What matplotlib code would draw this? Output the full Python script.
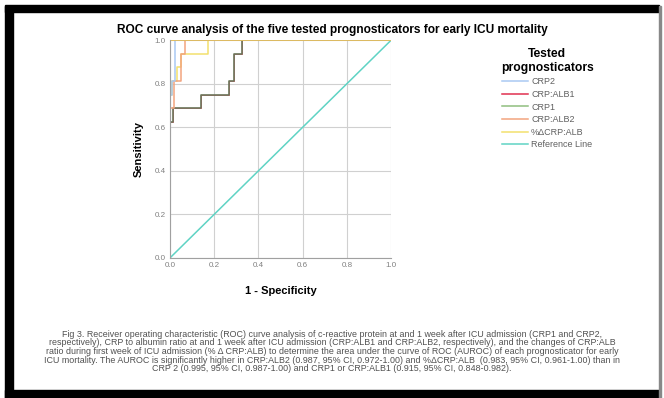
import matplotlib
matplotlib.use("Agg")
import matplotlib.pyplot as plt
from matplotlib.lines import Line2D
from matplotlib.patches import Rectangle

plt.rcParams['font.family'] = ['Liberation Sans', 'DejaVu Sans']

# ROC curves (1 - specificity, sensitivity)
crp2_fpr = [0, 0, 0.01, 0.01, 0.022, 0.022, 1]
crp2_tpr = [0, 0.75, 0.75, 0.8125, 0.8125, 1, 1]

crp1_fpr = [0, 0, 0.015, 0.015, 0.14, 0.14, 0.265, 0.265, 0.29, 0.29, 0.325, 0.325, 1]
crp1_tpr = [0, 0.625, 0.625, 0.6875, 0.6875, 0.75, 0.75, 0.8125, 0.8125, 0.9375, 0.9375, 1, 1]

# CRP:ALB1 has the same curve as CRP1 (AUROC 0.915)
alb1_fpr = crp1_fpr
alb1_tpr = crp1_tpr

alb2_fpr = [0, 0, 0.02, 0.02, 0.05, 0.05, 0.07, 0.07, 1]
alb2_tpr = [0, 0.6875, 0.6875, 0.8125, 0.8125, 0.9375, 0.9375, 1, 1]

dalb_fpr = [0, 0, 0.01, 0.01, 0.03, 0.03, 0.05, 0.05, 0.17, 0.17, 1]
dalb_tpr = [0, 0.75, 0.75, 0.8125, 0.8125, 0.875, 0.875, 0.9375, 0.9375, 1, 1]

ref_x = [0, 1]
ref_y = [0, 1]

names = ['CRP2', 'CRP:ALB1', 'CRP1', 'CRP:ALB2', '%\u0394CRP:ALB', 'Reference Line']
colors = ['#a9c9f2', '#e0304f', '#8fbf7f', '#f2a47e', '#f2e06e', '#5fd3c4']

caption = ("Fig 3. Receiver operating characteristic (ROC) curve analysis of c-reactive protein at and 1 week after ICU admission (CRP1 and CRP2,\n"
           "respectively), CRP to albumin ratio at and 1 week after ICU admission (CRP:ALB1 and CRP:ALB2, respectively), and the changes of CRP:ALB\n"
           "ratio during first week of ICU admission (% \u0394 CRP:ALB) to determine the area under the curve of ROC (AUROC) of each prognosticator for early\n"
           "ICU mortality. The AUROC is significantly higher in CRP:ALB2 (0.987, 95% CI, 0.972-1.00) and %\u0394CRP:ALB  (0.983, 95% CI, 0.961-1.00) than in\n"
           "CRP 2 (0.995, 95% CI, 0.987-1.00) and CRP1 or CRP:ALB1 (0.915, 95% CI, 0.848-0.982).")

fig = plt.figure(figsize=(6.64, 3.98), dpi=100)
ax = fig.add_axes([0.256, 0.352, 0.333, 0.547])

ax.plot(ref_x, ref_y, color=colors[5], lw=1.1)
ax.plot(alb1_fpr, alb1_tpr, color=colors[1], lw=0.5)
ax.plot(crp1_fpr, crp1_tpr, color='#6a7458', lw=1.2)
ax.plot(dalb_fpr, dalb_tpr, color=colors[4], lw=1.1)
ax.plot(alb2_fpr, alb2_tpr, color=colors[3], lw=1.1)
ax.plot(crp2_fpr, crp2_tpr, color=colors[0], lw=1.1)
ax.plot([0, 1], [1, 1], color='#e8b840', lw=1.1)
ax.plot([0, 0], [0, 1], color='#e8b840', lw=1.1)

ax.set_xlim(0, 1)
ax.set_ylim(0, 1)
ax.set_xticks([0, 0.2, 0.4, 0.6, 0.8, 1.0])
ax.set_yticks([0, 0.2, 0.4, 0.6, 0.8, 1.0])
ax.grid(True, color='#d0d0d0', lw=0.8)
ax.set_axisbelow(True)
for s in ['top', 'right']:
    ax.spines[s].set_visible(False)
for s in ['left', 'bottom']:
    ax.spines[s].set_color('#a0a0a0')
ax.tick_params(labelsize=5.8, colors='#808080', length=0, pad=3)
ax.set_xlabel('1 - Specificity', fontsize=8, fontweight='bold', labelpad=12)
ax.set_ylabel('Sensitivity', fontsize=8, fontweight='bold', labelpad=8)

handles = [Line2D([0], [0], color=c, lw=1.1) for c in colors]
leg = fig.legend(handles, names, loc='upper left', bbox_to_anchor=(0.742, 0.9),
                 frameon=False, fontsize=6.5, title='Tested\nprognosticators',
                 title_fontproperties={'weight': 'bold', 'size': 8.7},
                 handlelength=2.9, handletextpad=0.3, labelspacing=0.4,
                 labelcolor='#606060', alignment='center')
leg.get_title().set_multialignment('center')

fig.text(0.5, 0.925, 'ROC curve analysis of the five tested prognosticators for early ICU mortality',
         ha='center', va='center', fontsize=8.6, fontweight='bold')
fig.text(0.5, 0.062, caption, ha='center', va='bottom', fontsize=6.4,
         color='#505050', linespacing=0.95)

# black frame of the screenshot
fig.patches.append(Rectangle((0.008, 0.0), 0.011, 0.985, transform=fig.transFigure, color='black'))
fig.patches.append(Rectangle((0.008, 0.97), 0.985, 0.018, transform=fig.transFigure, color='black'))
fig.patches.append(Rectangle((0.008, 0.0), 0.985, 0.02, transform=fig.transFigure, color='black'))
fig.patches.append(Rectangle((0.993, 0.0), 0.003, 0.985, transform=fig.transFigure, color='#888888'))

fig.savefig('out.png', dpi=100)
